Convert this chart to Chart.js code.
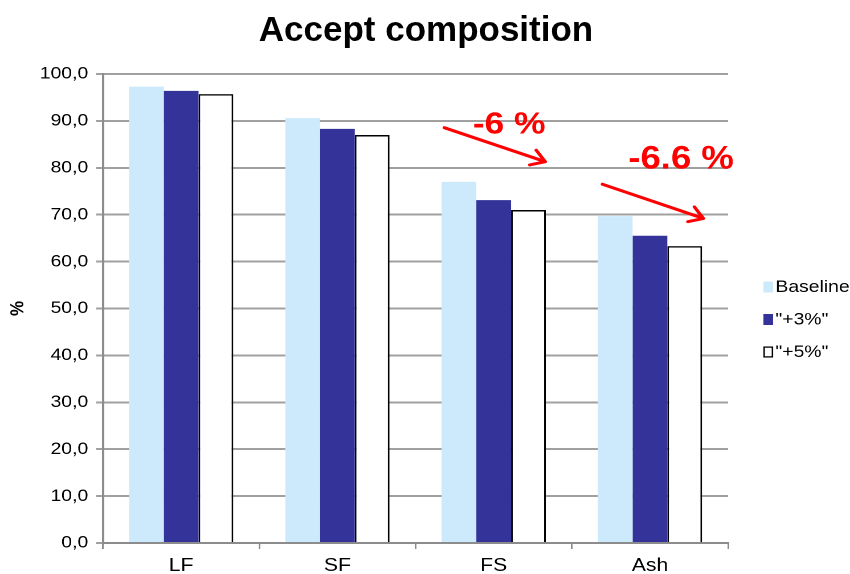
<!DOCTYPE html>
<html>
<head>
<meta charset="utf-8">
<script src="https://cdn.jsdelivr.net/npm/chart.js@4/dist/chart.umd.min.js"></script>
<style>
  html, body { margin: 0; padding: 0; background: #ffffff; }
  #wrap { position: relative; width: 850px; height: 574px; overflow: hidden; }
  #c { position: absolute; left: 0; top: 0; display: block; }
  #title {
    position: absolute; left: 0; top: 11px; width: 852px;
    text-align: center; font: bold 35px/35px "Liberation Sans", Arial, sans-serif;
    color: #000000; white-space: nowrap;
  }
</style>
</head>
<body>
<div id="wrap">
  <!-- the plot is laid out on a 746px-wide canvas and shown 850px wide -->
  <canvas id="c" width="746" height="574" style="width:850px;height:574px"></canvas>
  <div id="title">Accept composition</div>
</div>
<script>
// Fractions of each component in the accept stream (%)
const categories = ['LF', 'SF', 'FS', 'Ash'];
const seriesNames = ['Baseline', '"+3%"', '"+5%"'];
const baseline = [97.3, 90.6, 77.0, 69.7];
const plus3 = [96.4, 88.3, 73.1, 65.5];
const plus5 = [95.7, 87.0, 71.0, 63.3];
const yTicks = [0, 10, 20, 30, 40, 50, 60, 70, 80, 90, 100];

// Change callouts: text plus arrow start/end, in (category index, %) units
const callouts = [
  { text: '-6 %',   tx: 2.099, ty: 89.1, size: 31, from: [1.684, 88.55], to: [2.330, 81.3] },
  { text: '-6.6 %', tx: 3.199, ty: 81.7, size: 32, from: [2.696, 76.5],  to: [3.342, 69.2] }
];

const FONT = '"Liberation Sans", Arial, sans-serif';
const FILLS = ['#cceafc', '#333399', '#ffffff'];
const EDGES = [null, null, '#000000'];

const calloutPlugin = {
  id: 'callouts',
  afterDatasetsDraw(chart) {
    const { ctx, scales: { x, y } } = chart;
    ctx.save();
    ctx.strokeStyle = '#ff0000';
    ctx.fillStyle = '#ff0000';
    ctx.lineWidth = 3;
    ctx.lineCap = 'round';
    ctx.lineJoin = 'round';
    callouts.forEach(c => {
      const x1 = x.getPixelForValue(c.from[0]), y1 = y.getPixelForValue(c.from[1]);
      const x2 = x.getPixelForValue(c.to[0]), y2 = y.getPixelForValue(c.to[1]);
      ctx.beginPath();
      ctx.moveTo(x1, y1);
      ctx.lineTo(x2, y2);
      const a = Math.atan2(y2 - y1, x2 - x1);
      const h = 14;
      ctx.moveTo(x2 - h * Math.cos(a - 0.6), y2 - h * Math.sin(a - 0.6));
      ctx.lineTo(x2, y2);
      ctx.lineTo(x2 - h * Math.cos(a + 0.6), y2 - h * Math.sin(a + 0.6));
      ctx.stroke();
      ctx.font = 'bold ' + c.size + 'px ' + FONT;
      ctx.textAlign = 'center';
      ctx.textBaseline = 'middle';
      ctx.fillText(c.text, x.getPixelForValue(c.tx), y.getPixelForValue(c.ty));
    });
    ctx.restore();
  }
};

// Legend to the right of the plot, one row per series
const sideLegend = {
  id: 'sideLegend',
  afterDraw(chart) {
    const { ctx, chartArea } = chart;
    const left = chartArea.right + 31;
    const top = 287, step = 32.5, box = 8.5;
    ctx.save();
    ctx.font = '17px ' + FONT;
    ctx.textBaseline = 'middle';
    ctx.textAlign = 'left';
    chart.data.datasets.forEach((ds, i) => {
      const cy = top + i * step;
      ctx.fillStyle = FILLS[i];
      ctx.fillRect(left, cy - 5.5, box, 11);
      if (EDGES[i]) {
        ctx.strokeStyle = EDGES[i];
        ctx.lineWidth = 1.3;
        ctx.strokeRect(left + 0.6, cy - 4.9, box - 1.2, 9.8);
      }
      ctx.fillStyle = '#000000';
      ctx.fillText(ds.label, left + box + 2, cy + 0.5);
    });
    ctx.restore();
  }
};

new Chart(document.getElementById('c'), {
  type: 'bar',
  data: {
    labels: categories,
    datasets: [
      { label: seriesNames[0], data: baseline, backgroundColor: FILLS[0], borderWidth: 0 },
      { label: seriesNames[1], data: plus3, backgroundColor: FILLS[1], borderWidth: 0 },
      { label: seriesNames[2], data: plus5, backgroundColor: FILLS[2], borderColor: EDGES[2], borderWidth: 1.5 }
    ]
  },
  options: {
    responsive: false,
    animation: false,
    devicePixelRatio: 2,
    datasets: { bar: { categoryPercentage: 0.667, barPercentage: 1.0 } },
    layout: { padding: { left: 0, right: 107, top: 74, bottom: 0 } },
    plugins: {
      title: { display: false },
      legend: { display: false },
      tooltip: { enabled: false }
    },
    scales: {
      x: {
        afterFit(scale) { scale.height = 31; },
        grid: {
          display: true,
          offset: true,
          drawOnChartArea: false,
          drawTicks: true,
          tickLength: 6,
          color: '#8c8c8c',
          lineWidth: 1.5
        },
        border: { display: true, color: '#8c8c8c', width: 2 },
        ticks: { color: '#000000', font: { family: FONT, size: 18.5 }, padding: 6 }
      },
      y: {
        min: 0,
        max: 100,
        afterFit(scale) { scale.width = 90.4; },
        afterBuildTicks(axis) { axis.ticks = yTicks.map(v => ({ value: v })); },
        grid: { color: '#a0a0a0', lineWidth: 2, tickLength: 6 },
        border: { display: true, color: '#8c8c8c', width: 2 },
        ticks: {
          color: '#000000',
          font: { family: FONT, size: 17 },
          padding: 7,
          callback: v => v.toFixed(1).replace('.', ',')
        },
        title: {
          display: true,
          text: '%',
          color: '#000000',
          font: { family: FONT, size: 17, weight: 'bold' },
          padding: { top: 5.6, bottom: 0 }
        }
      }
    }
  },
  plugins: [calloutPlugin, sideLegend]
});
</script>
</body>
</html>
